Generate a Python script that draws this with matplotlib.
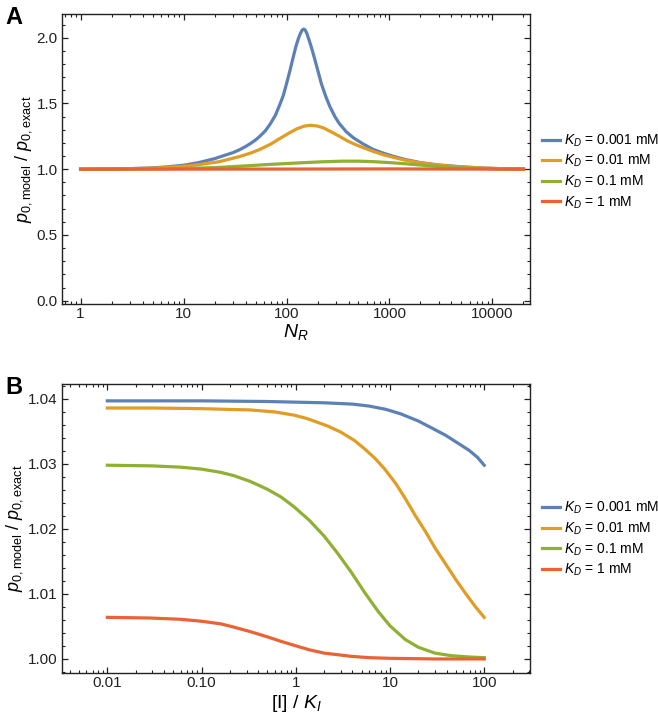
import matplotlib
matplotlib.use("Agg")
import matplotlib.pyplot as plt
from matplotlib.ticker import FixedLocator, FixedFormatter, MultipleLocator, LogLocator, NullFormatter

plt.rcParams['font.family'] = ['Liberation Sans', 'DejaVu Sans']
plt.rcParams['mathtext.fontset'] = 'custom'
plt.rcParams['mathtext.rm'] = 'Liberation Sans'
plt.rcParams['mathtext.it'] = 'Liberation Sans:italic'

# Panel A: ratio vs N_R
nr_blue = [1, 2, 3, 5, 7, 10, 14, 20, 25, 30, 35, 40, 45, 50, 55, 62, 69, 78, 86, 93, 100, 108, 116, 123, 130,
           136, 142, 147, 152, 158, 166, 177, 189, 203, 218, 240, 264, 295, 327, 380, 444, 560, 696, 870, 1090,
           1400, 2000, 3000, 5000, 8000, 12000, 20000]
a_blue = [1.000, 1.002, 1.004, 1.010, 1.018, 1.030, 1.050, 1.080, 1.105, 1.125, 1.148, 1.172, 1.197, 1.222,
          1.25, 1.29, 1.34, 1.41, 1.49, 1.56, 1.65, 1.75, 1.85, 1.93, 1.99,
          2.03, 2.058, 2.065, 2.058, 2.03, 1.98, 1.91, 1.83, 1.74, 1.65, 1.555, 1.475, 1.40, 1.345, 1.285, 1.24,
          1.19, 1.150, 1.122, 1.098, 1.075, 1.050, 1.032, 1.018, 1.009, 1.004, 1.001]
nr_orange = [1, 2, 3, 5, 7, 10, 14, 22.5, 35, 45, 55, 70, 86, 105, 126, 148, 170, 200, 230, 270, 327, 390, 470,
             580, 696, 870, 1090, 1400, 2000, 3000, 5000, 8000, 12000, 20000]
a_orange = [1.000, 1.002, 1.004, 1.008, 1.014, 1.022, 1.034, 1.058, 1.096, 1.123, 1.150, 1.19, 1.233, 1.273,
            1.307, 1.327, 1.334, 1.328, 1.313, 1.285, 1.25, 1.215, 1.186, 1.158, 1.135, 1.11, 1.09, 1.07,
            1.048, 1.031, 1.017, 1.009, 1.004, 1.001]
nr_green = [1, 3, 10, 20, 40, 64, 100, 150, 220, 350, 500, 700, 1000, 1400, 1700, 2500, 4000, 7000, 12000, 20000]
a_green = [1.000, 1.001, 1.005, 1.012, 1.025, 1.035, 1.043, 1.050, 1.056, 1.061, 1.061, 1.057, 1.050, 1.042,
           1.036, 1.025, 1.014, 1.006, 1.002, 1.001]
nr_red = [1, 100, 1000, 20000]
a_red = [1.000, 1.001, 1.002, 1.000]

# Panel B: ratio vs [I]/K_I
ik_blue = [0.01, 0.1, 0.5, 1, 2, 4, 6, 9, 13, 20, 28, 39, 50, 69, 85, 100]
b_blue = [1.0397, 1.0397, 1.0396, 1.0395, 1.0394, 1.0392, 1.0389, 1.0384, 1.0377, 1.0366, 1.0355, 1.0344,
          1.0334, 1.0321, 1.0310, 1.0298]
ik_orange = [0.01, 0.03, 0.1, 0.33, 0.6, 0.96, 1.3, 1.7, 2.2, 3.0, 4.2, 5.4, 7, 8.8, 11.5, 14.5, 18.5, 23.8, 30,
             39, 50, 64, 80, 100]
b_orange = [1.0386, 1.0386, 1.0385, 1.0383, 1.0380, 1.0375, 1.0370, 1.0364, 1.0358, 1.0349, 1.0336, 1.0323,
            1.0308, 1.0292, 1.0270, 1.0247, 1.0221, 1.0196, 1.0171, 1.0146, 1.0122, 1.0100, 1.0081, 1.0064]
ik_green = [0.01, 0.03, 0.06, 0.1, 0.16, 0.22, 0.33, 0.5, 0.7, 0.96, 1.4, 2.0, 2.8, 3.9, 5.4, 7.5, 10, 14.5,
            20, 30, 45, 70, 100]
b_green = [1.0298, 1.0297, 1.0295, 1.0292, 1.0287, 1.0282, 1.0273, 1.0261, 1.0249, 1.0234, 1.0213, 1.0189,
           1.0162, 1.0133, 1.0102, 1.0073, 1.0051, 1.0030, 1.0018, 1.0009, 1.0005, 1.0003, 1.0002]
ik_red = [0.01, 0.028, 0.06, 0.1, 0.16, 0.22, 0.33, 0.5, 0.7, 0.96, 1.4, 2.0, 3.0, 3.9, 6, 10, 30, 100]
b_red = [1.0064, 1.0063, 1.0061, 1.0058, 1.0054, 1.0049, 1.0042, 1.0034, 1.0027, 1.0021, 1.0014, 1.0009,
         1.0006, 1.0004, 1.0002, 1.0001, 1.0000, 1.0000]

labels = [r'$K_D$ = 0.001 mM', r'$K_D$ = 0.01 mM', r'$K_D$ = 0.1 mM', r'$K_D$ = 1 mM']
colors = ['#5E81B5', '#E19C24', '#8FB032', '#EB6235']

a_ticks = [1, 10, 100, 1000, 10000]
a_ticklabels = ['1', '10', '100', '1000', '10000']
b_ticks = [0.01, 0.1, 1, 10, 100]
b_ticklabels = ['0.01', '0.10', '1', '10', '100']

fig = plt.figure(figsize=(6.58, 7.17), dpi=100)
axA = fig.add_axes([0.0942, 0.576, 0.712, 0.4045])
axB = fig.add_axes([0.0942, 0.061, 0.712, 0.4035])

lw = 2.3
axA.plot(nr_blue, a_blue, color=colors[0], lw=lw, label=labels[0])
axA.plot(nr_orange, a_orange, color=colors[1], lw=lw, label=labels[1])
axA.plot(nr_green, a_green, color=colors[2], lw=lw, label=labels[2])
axA.plot(nr_red, a_red, color=colors[3], lw=lw, label=labels[3])

axB.plot(ik_blue, b_blue, color=colors[0], lw=lw, label=labels[0])
axB.plot(ik_orange, b_orange, color=colors[1], lw=lw, label=labels[1])
axB.plot(ik_green, b_green, color=colors[2], lw=lw, label=labels[2])
axB.plot(ik_red, b_red, color=colors[3], lw=lw, label=labels[3])

for ax in (axA, axB):
    ax.set_xscale('log')
    ax.tick_params(which='both', direction='in', top=True, right=True, labelsize=11, colors='#222222', pad=3)
    ax.tick_params(axis='x', which='both', pad=2)
    ax.tick_params(which='major', length=4, width=0.9)
    ax.tick_params(which='minor', length=2, width=0.8)
    ax.xaxis.set_minor_locator(LogLocator(base=10, subs=range(2, 10), numticks=20))
    ax.xaxis.set_minor_formatter(NullFormatter())
    for s in ax.spines.values():
        s.set_linewidth(1.0)
        s.set_color('#222222')

axA.set_xlim(0.66, 23400)
axA.set_ylim(-0.025, 2.18)
axA.xaxis.set_major_locator(FixedLocator(a_ticks))
axA.xaxis.set_major_formatter(FixedFormatter(a_ticklabels))
axA.yaxis.set_major_locator(MultipleLocator(0.5))
axA.yaxis.set_minor_locator(MultipleLocator(0.1))
axA.yaxis.set_major_formatter(plt.FormatStrFormatter('%.1f'))
axA.set_xlabel(r'$N_R$', fontsize=14, labelpad=1)
axA.set_ylabel(r'$p_{0,\mathrm{model}}$ / $p_{0,\mathrm{exact}}$', fontsize=13, labelpad=2)

axB.set_xlim(0.0033, 310)
axB.set_ylim(0.9978, 1.0423)
axB.xaxis.set_major_locator(FixedLocator(b_ticks))
axB.xaxis.set_major_formatter(FixedFormatter(b_ticklabels))
axB.yaxis.set_major_locator(MultipleLocator(0.01))
axB.yaxis.set_minor_locator(MultipleLocator(0.002))
axB.yaxis.set_major_formatter(plt.FormatStrFormatter('%.2f'))
axB.set_xlabel(r'[I] / $K_I$', fontsize=14, labelpad=2)
axB.set_ylabel(r'$p_{0,\mathrm{model}}$ / $p_{0,\mathrm{exact}}$', fontsize=13, labelpad=2)

legend_kw = dict(loc='center left', frameon=False, fontsize=10, borderpad=0, borderaxespad=0,
                 handlelength=1.3, handletextpad=0.3, labelspacing=0.3)
axA.legend(bbox_to_anchor=(1.0245, 0.457), **legend_kw)
axB.legend(bbox_to_anchor=(1.0245, 0.464), **legend_kw)

fig.text(0.008, 0.992, 'A', fontsize=17, fontweight='bold', va='top', ha='left')
fig.text(0.008, 0.476, 'B', fontsize=17, fontweight='bold', va='top', ha='left')

fig.savefig('out.png', dpi=100)
